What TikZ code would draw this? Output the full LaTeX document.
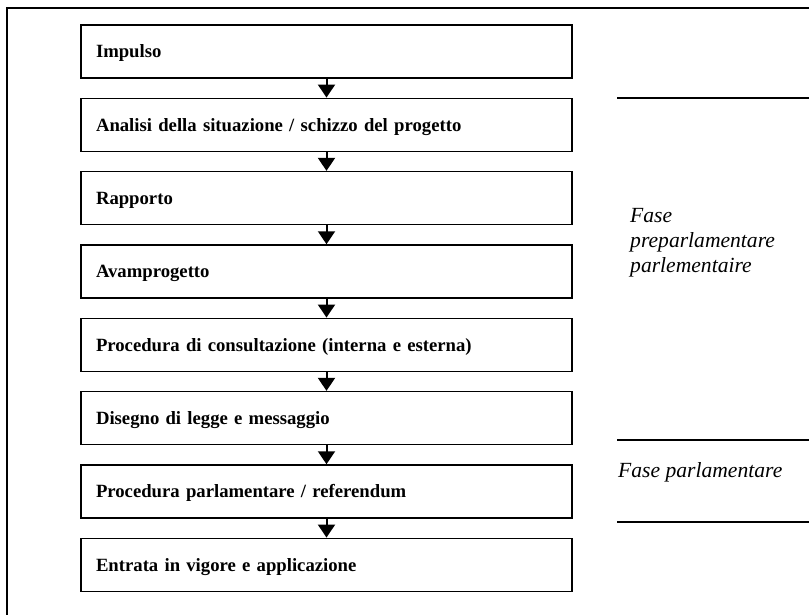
\documentclass[tikz,border=0pt]{standalone}
\usepackage{fontspec}
\setmainfont{Liberation Serif}
\usetikzlibrary{arrows.meta}
\begin{document}
\begin{tikzpicture}[x=1pt,y=-1pt,
  stepbox/.style={draw, line width=1.5pt, minimum height=53pt, inner xsep=15pt, inner ysep=0pt,
    text width=461pt, align=left, text height=12.6pt, text depth=0pt,
    font=\fontsize{18.7}{22}\selectfont\bfseries},
  flow/.style={line width=2pt, -{Triangle[width=17pt,length=13pt]}},
  phase/.style={font=\fontsize{21.6}{25}\selectfont\itshape, align=left, inner sep=0pt},
  rulefine/.style={line width=1.5pt},
  frame/.style={line width=2pt}]
\useasboundingbox (0,0) rectangle (809,615);
\draw[frame] (7,616) -- (7,8) -- (810,8);
\node[stepbox] (b1) at (326.5,51.5) {Impulso};
\node[stepbox] (b2) at (326.5,124.8) {Analisi della situazione / schizzo del progetto};
\node[stepbox] (b3) at (326.5,198.1) {Rapporto};
\node[stepbox] (b4) at (326.5,271.5) {Avamprogetto};
\node[stepbox] (b5) at (326.5,344.8) {Procedura di consultazione (interna e esterna)};
\node[stepbox] (b6) at (326.5,418.1) {Disegno di legge e messaggio};
\node[stepbox] (b7) at (326.5,491.5) {Procedura parlamentare / referendum};
\node[stepbox] (b8) at (326.5,564.8) {Entrata in vigore e applicazione};
\draw[flow] (b1.south) -- (b2.north);
\draw[flow] (b2.south) -- (b3.north);
\draw[flow] (b3.south) -- (b4.north);
\draw[flow] (b4.south) -- (b5.north);
\draw[flow] (b5.south) -- (b6.north);
\draw[flow] (b6.south) -- (b7.north);
\draw[flow] (b7.south) -- (b8.north);
\draw[rulefine] (617,98) -- (810,98);
\draw[rulefine] (617,440) -- (810,440);
\draw[rulefine] (617,522) -- (810,522);
\node[phase, anchor=base west] (p1) at (630,272) {Fase\\preparlamentare\\parlementaire};
\node[phase, anchor=base west] (p2) at (618,477) {Fase parlamentare};
\end{tikzpicture}
\end{document}
